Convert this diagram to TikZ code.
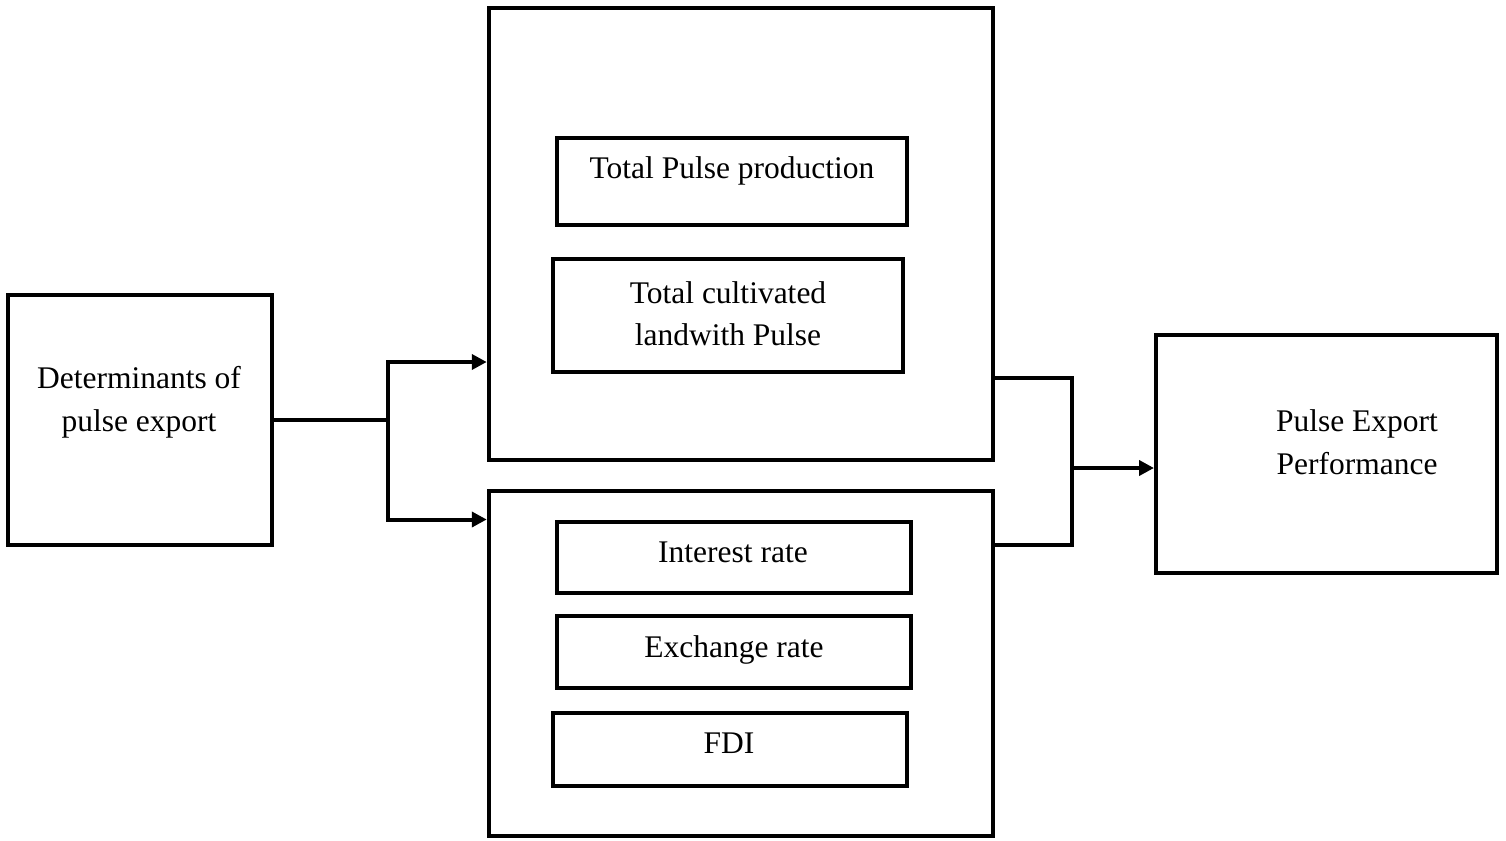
\documentclass[tikz,border=0pt]{standalone}
\usepackage{fontspec}
\setmainfont{Liberation Serif}
\usepackage{xcolor}
\usepackage{tikz}
\usetikzlibrary{shapes,arrows,arrows.meta,positioning,fit,backgrounds}

\begin{document}
\begin{tikzpicture}[
    x=1pt, y=-1pt,
    box/.style={rectangle, draw, line width=4pt, inner sep=0pt},
    group/.style={rectangle, draw, line width=4.5pt, inner sep=0pt},
    txt/.style={inner sep=0pt, align=center, font=\fontsize{31.5}{42.5}\selectfont},
    link/.style={line width=4pt},
    arrow/.style={line width=4pt, -{Triangle[length=15pt, width=15pt]}}
]
    \useasboundingbox (0,0) rectangle (1506,840);

    % Determinants
    \node[box, minimum width=264pt, minimum height=250pt] (det) at (140,420) {};
    \node[txt] (dettxt) at (139,402.5) {Determinants of\\pulse export};

    % Production factors
    \node[group, minimum width=504pt, minimum height=452pt] (top) at (741,234) {};
    \node[box, minimum width=350pt, minimum height=87pt] (prod) at (732,181.5) {};
    \node[txt] (prodtxt) at (732,170.5) {Total Pulse production};
    \node[box, minimum width=350pt, minimum height=113pt] (land) at (728,315.5) {};
    \node[txt] (landtxt) at (728,313.5) {Total cultivated\\landwith Pulse};

    % Macro factors
    \node[group, minimum width=504pt, minimum height=345pt] (bot) at (741,663.5) {};
    \node[box, minimum width=354pt, minimum height=71pt] (rate) at (734,557.5) {};
    \node[txt] (ratetxt) at (733,552.5) {Interest rate};
    \node[box, minimum width=354pt, minimum height=72pt] (exch) at (734,652) {};
    \node[txt] (exchtxt) at (734,649.5) {Exchange rate};
    \node[box, minimum width=354pt, minimum height=73pt] (fdi) at (730,749.5) {};
    \node[txt] (fditxt) at (729,743.5) {FDI};

    % Performance
    \node[box, minimum width=341pt, minimum height=238pt] (perf) at (1326.5,454) {};
    \node[txt] (perftxt) at (1357,442) {Pulse Export\\Performance};

    % Split
    \coordinate (split) at (388,420);
    \coordinate (up) at (388,362);
    \coordinate (dn) at (388,519.5);
    \draw[link] (det.east) -- (split);
    \draw[link] (up) -- (dn);
    \draw[arrow] ([xshift=-2pt]up) -- (up -| top.west);
    \draw[arrow] ([xshift=-2pt]dn) -- (dn -| bot.west);

    % Join
    \coordinate (jup) at (1072,378);
    \coordinate (jdn) at (1072,545);
    \coordinate (join) at (1072,468);
    \draw[link] (jup -| top.east) -- ([xshift=2pt]jup);
    \draw[link] (jdn -| bot.east) -- ([xshift=2pt]jdn);
    \draw[link] (jup) -- (jdn);
    \draw[arrow] (join) -- (join -| perf.west);
\end{tikzpicture}
\end{document}
